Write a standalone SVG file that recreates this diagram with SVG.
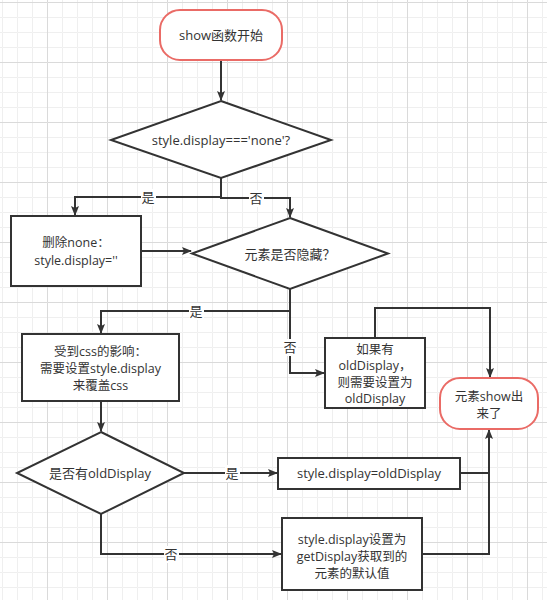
<svg xmlns="http://www.w3.org/2000/svg" width="547" height="600" viewBox="0 0 547 600">
<style>
.t{font-family:"Open Sans","Noto Sans CJK SC",sans-serif;font-size:13px;fill:#333;text-anchor:middle}
.m{font-size:12.5px}
.n{fill:#fff;stroke:#333;stroke-width:2}
.r{fill:#fff;stroke:#ea6b66;stroke-width:2}
.c{fill:none;stroke:#333;stroke-width:2}
.lb{fill:#fff}
</style>
<defs>
<pattern id="gm" width="15" height="15" x="2" y="2" patternUnits="userSpaceOnUse">
<path d="M15,0.5 H0.5 V15" fill="none" stroke="#efefef" stroke-width="1"/>
</pattern>
<pattern id="gM" width="60" height="60" x="47" y="2" patternUnits="userSpaceOnUse">
<path d="M60,0.5 H0.5 V60" fill="none" stroke="#dadada" stroke-width="1"/>
</pattern>
<marker id="a" markerWidth="10" markerHeight="8" refX="9" refY="4" orient="auto" markerUnits="userSpaceOnUse">
<path d="M0,0 L10,4 L0,8 L2,4 z" fill="#333"/>
</marker>
</defs>
<rect width="547" height="600" fill="#fff"/>
<rect width="547" height="600" fill="url(#gm)"/>
<rect width="547" height="600" fill="url(#gM)"/>

<g id="connectors">
<path class="c" d="M221,60 V100" marker-end="url(#a)"/>
<path class="c" d="M221,178 V197 H75 V215" marker-end="url(#a)"/>
<path class="c" d="M221,197 V198 H290 V217" marker-end="url(#a)"/>
<path class="c" d="M141,251 H191" marker-end="url(#a)"/>
<path class="c" d="M290,289 V311 H101 V333" marker-end="url(#a)"/>
<path class="c" d="M290,311 V373 H324" marker-end="url(#a)"/>
<path class="c" d="M375,338 V308 H490 V377" marker-end="url(#a)"/>
<path class="c" d="M101,401 V431" marker-end="url(#a)"/>
<path class="c" d="M184,473 H277" marker-end="url(#a)"/>
<path class="c" d="M101,514 V554 H281" marker-end="url(#a)"/>
<path class="c" d="M460,473 H489"/>
<path class="c" d="M422,554 H489 V430" marker-end="url(#a)"/>
<rect class="lb" x="141" y="189" width="15" height="17"/>
<text class="t" x="148" y="201.5">是</text>
<rect class="lb" x="249" y="190" width="15" height="17"/>
<text class="t" x="256" y="202.5">否</text>
<rect class="lb" x="189" y="303" width="15" height="17"/>
<text class="t" x="196" y="315.5">是</text>
<rect class="lb" x="283" y="339" width="15" height="17"/>
<text class="t" x="290" y="351.5">否</text>
<rect class="lb" x="225" y="465" width="15" height="17"/>
<text class="t" x="232" y="477.5">是</text>
<rect class="lb" x="164" y="546" width="15" height="17"/>
<text class="t" x="171" y="558.5">否</text>
</g>

<g id="start">
<rect class="r" x="160" y="10" width="122" height="50" rx="20"/>
<text class="t" x="221" y="39.5">show函数开始</text>
</g>
<g id="check-none">
<polygon class="n" points="221,101 331,140 221,178 111,140"/>
<text class="t" x="221" y="144.5">style.display==='none'?</text>
</g>
<g id="remove-none">
<rect class="n" x="11" y="216" width="130" height="70"/>
<text class="t m" x="76" y="246.5">删除none：</text>
<text class="t m" x="76" y="264.5">style.display=''</text>
</g>
<g id="is-hidden">
<polygon class="n" points="290,218 388,253.5 290,289 192,253.5"/>
<text class="t" x="290" y="258.5">元素是否隐藏？</text>
</g>
<g id="css-affected">
<rect class="n" x="22" y="334" width="157" height="67"/>
<text class="t m" x="100.5" y="356">受到css的影响：</text>
<text class="t m" x="100.5" y="373">需要设置style.display</text>
<text class="t m" x="100.5" y="390">来覆盖css</text>
</g>
<g id="has-old">
<rect class="n" x="325" y="338" width="100" height="70"/>
<text class="t m" x="375" y="353.5">如果有</text>
<text class="t m" x="375" y="370">oldDisplay，</text>
<text class="t m" x="375" y="386.5">则需要设置为</text>
<text class="t m" x="375" y="403">oldDisplay</text>
</g>
<g id="end">
<rect class="r" x="440" y="378" width="98" height="51" rx="20"/>
<text class="t m" x="489" y="400.5">元素show出</text>
<text class="t m" x="489" y="418">来了</text>
</g>
<g id="check-old">
<polygon class="n" points="101,432 184,473 101,514 17,473"/>
<text class="t" x="100" y="477.5">是否有oldDisplay</text>
</g>
<g id="set-old">
<rect class="n" x="278" y="458" width="182" height="31"/>
<text class="t" x="369" y="478">style.display=oldDisplay</text>
</g>
<g id="set-default">
<rect class="n" x="282" y="518" width="140" height="72"/>
<text class="t m" x="352" y="543.5">style.display设置为</text>
<text class="t m" x="352" y="560.5">getDisplay获取到的</text>
<text class="t m" x="352" y="577.5">元素的默认值</text>
</g>
</svg>
